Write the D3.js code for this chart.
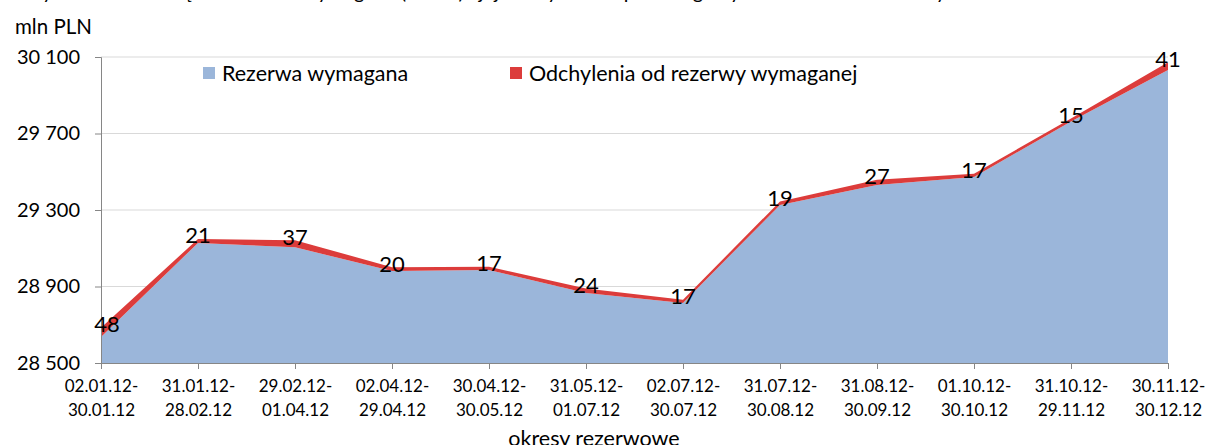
<!DOCTYPE html>
<html>
<head>
<meta charset="utf-8">
<script src="https://cdn.jsdelivr.net/npm/d3@7"></script>
<style>
  body { margin: 0; background: #fff; }
  svg text { font-family: Lato, "Open Sans", sans-serif; fill: #000; }
</style>
</head>
<body>
<div id="chart"></div>
<script>
// Data
var periodStart = ["02.01.12-", "31.01.12-", "29.02.12-", "02.04.12-", "30.04.12-", "31.05.12-",
    "02.07.12-", "31.07.12-", "31.08.12-", "01.10.12-", "31.10.12-", "30.11.12-"];
var periodEnd = ["30.01.12", "28.02.12", "01.04.12", "29.04.12", "30.05.12", "01.07.12",
    "30.07.12", "30.08.12", "30.09.12", "30.10.12", "29.11.12", "30.12.12"];
var reserve = [28636, 29128, 29105, 28981, 28986, 28866, 28814, 29326, 29431, 29473, 29763, 30032];
var deviation = [48, 21, 37, 20, 17, 24, 17, 19, 27, 17, 15, 41];
var yTicks = [28500, 28900, 29300, 29700, 30100];
var seriesNames = ["Rezerwa wymagana", "Odchylenia od rezerwy wymaganej"];
var colors = ["#9bb6da", "#dc3c3b"];

// SVG drawing area
var width = 1208, height = 445;
var margin = {top: 57, right: 40, bottom: 82, left: 101};

var svg = d3.select("#chart").append("svg")
    .attr("width", width)
    .attr("height", height);

// title (mostly cut off above the picture)
svg.append("text")
    .attr("x", 30)
    .attr("y", -1)
    .style("font-size", "20px")
    .text("Rysunek 1. Przeciętna rezerwa wymagana (mln zł) i jej odchylenia w poszczególnych okresach rezerwowych");

var chart = svg.append("g")
    .attr("transform", "translate(" + margin.left + "," + margin.top + ")");

var w = width - margin.left - margin.right; // 1067
var h = height - margin.top - margin.bottom; // 306

//Scales
var xScale = d3.scalePoint()
    .domain(d3.range(periodStart.length))
    .range([0, w]);
var yScale = d3.scaleLinear()
    .domain([28500, 30100])
    .range([h, 0]);

// gridlines
chart.selectAll(".grid")
    .data(yTicks.slice(1))
    .enter().append("line")
    .attr("class", "grid")
    .attr("x1", 0).attr("x2", w)
    .attr("y1", function(d) { return yScale(d); })
    .attr("y2", function(d) { return yScale(d); })
    .attr("stroke", "#d9d9d9")
    .attr("stroke-width", 1);

// stacked areas
var rows = reserve.map(function(d, i) { return {i: i, base: d, dev: deviation[i]}; });
var stack = d3.stack().keys(["base", "dev"]);
var series = stack(rows);

var area = d3.area()
    .x(function(d) { return xScale(d.data.i); })
    .y0(function(d) { return yScale(Math.max(d[0], 28500)); })
    .y1(function(d) { return yScale(d[1]); });

chart.selectAll(".layer")
    .data(series)
    .enter().append("path")
    .attr("class", "layer")
    .attr("d", area)
    .attr("fill", function(d, i) { return colors[i]; });

// Axes
var yAxis = d3.axisLeft(yScale)
    .tickValues(yTicks)
    .tickSize(6)
    .tickPadding(15)
    .tickFormat(function(d) { return d3.format(",")(d).replace(",", " "); });

var gy = chart.append("g").call(yAxis);
gy.select(".domain").attr("stroke", "#868686").attr("d", "M-6,0.5H0.5V" + h);
gy.selectAll(".tick line").attr("stroke", "#868686");
gy.selectAll(".tick text")
    .style("font-size", "20px")
    .style("font-family", "Lato, sans-serif");

var xAxis = d3.axisBottom(xScale)
    .tickSize(6)
    .tickFormat("");
var gx = chart.append("g")
    .attr("transform", "translate(0," + h + ")")
    .call(xAxis);
gx.select(".domain").attr("stroke", "#868686").attr("d", "M0.5,0.5H" + w);
gx.selectAll(".tick line").attr("stroke", "#868686");

// two-line category labels
var xl = gx.selectAll(".tick").append("text")
    .attr("text-anchor", "middle")
    .style("font-size", "17px")
    .style("font-family", "Lato, sans-serif")
    .attr("fill", "#000");
xl.append("tspan").attr("x", 0).attr("y", 29).text(function(d) { return periodStart[d]; });
xl.append("tspan").attr("x", 0).attr("y", 53).text(function(d) { return periodEnd[d]; });

// axis titles
svg.append("text")
    .attr("x", 15)
    .attr("y", 34)
    .style("font-size", "20.5px")
    .text("mln PLN");

svg.append("text")
    .attr("x", 594)
    .attr("y", 446)
    .attr("text-anchor", "middle")
    .style("font-size", "21.5px")
    .text("okresy rezerwowe");

// data labels
chart.selectAll(".dlabel")
    .data(rows)
    .enter().append("text")
    .attr("class", "dlabel")
    .attr("text-anchor", "middle")
    .attr("dominant-baseline", "central")
    .style("font-size", "22px")
    .attr("x", function(d) { return Math.max(xScale(d.i), 6); })
    .attr("y", function(d) { return yScale(d.base + d.dev) - 4; })
    .text(function(d) { return d.dev; });

// Legend
var legendX = [203, 510];
var legend = svg.selectAll(".legend")
    .data(seriesNames)
    .enter().append("g")
    .attr("class", "legend")
    .attr("transform", function(d, i) { return "translate(" + legendX[i] + ",67)"; });
legend.append("rect")
    .attr("width", 12).attr("height", 12)
    .attr("fill", function(d, i) { return colors[i]; });
legend.append("text")
    .attr("x", 19)
    .attr("y", 6)
    .attr("dominant-baseline", "central")
    .style("font-size", "21.5px")
    .text(function(d) { return d; });
</script>
</body>
</html>
